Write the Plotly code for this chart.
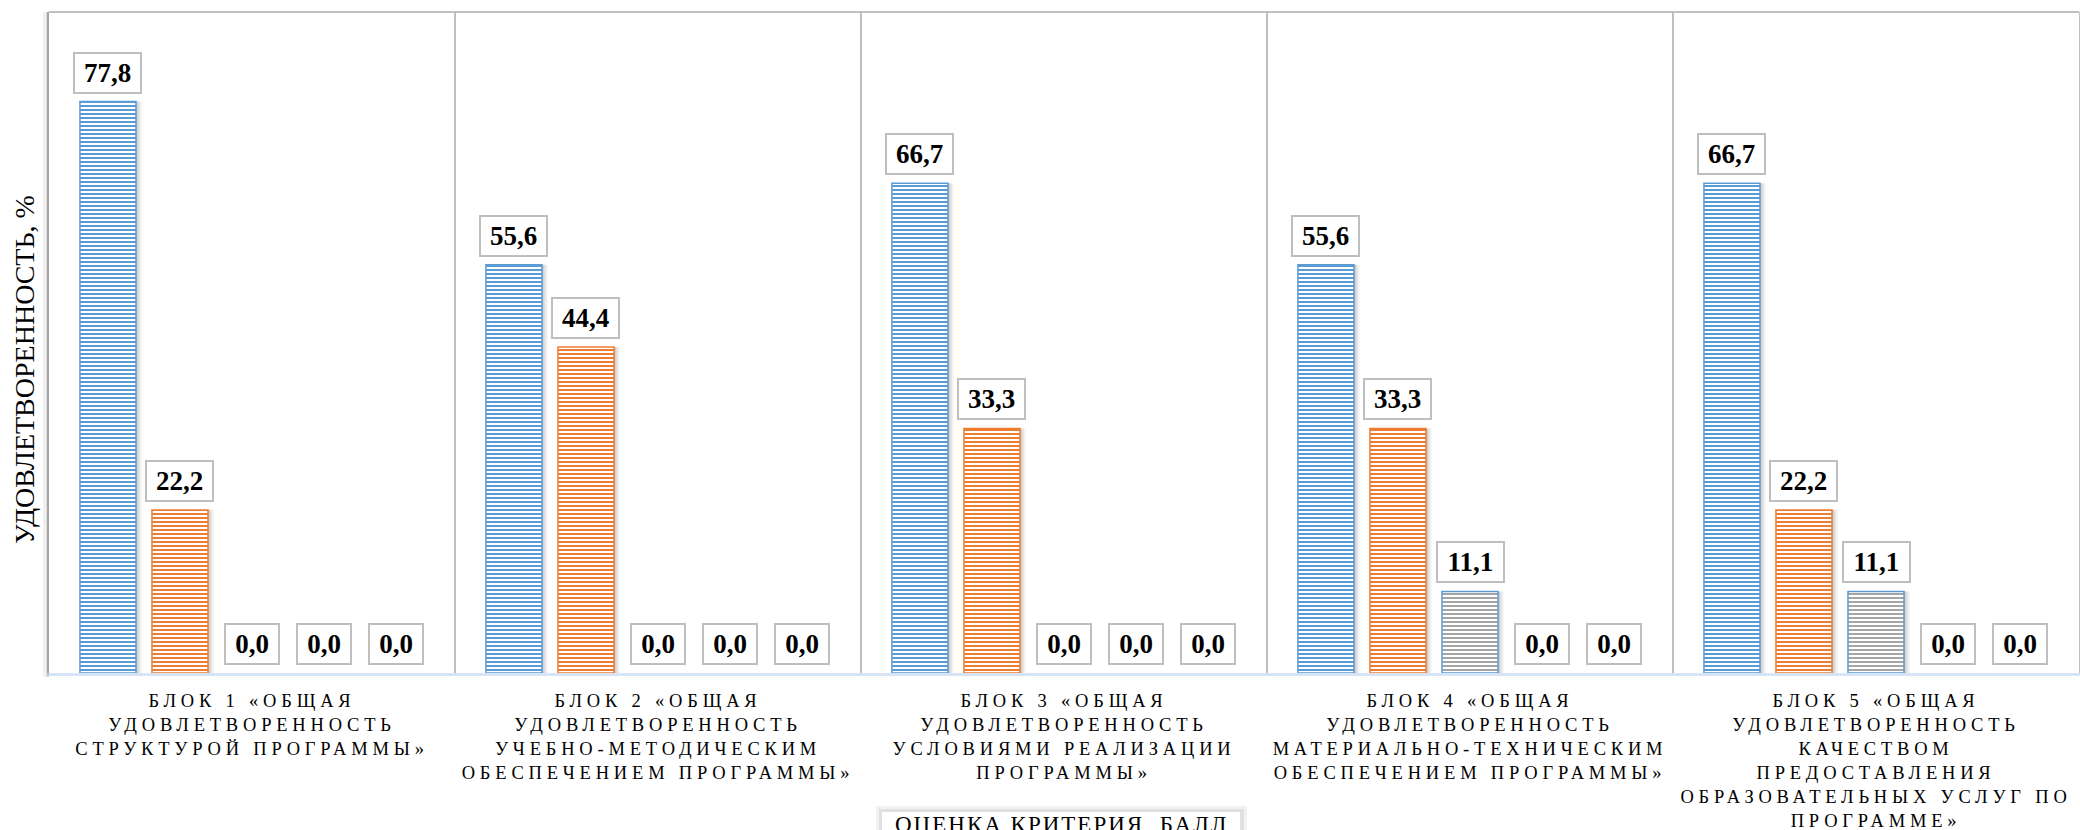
import plotly.graph_objects as go

categories = [
    "БЛОК 1 «ОБЩАЯ<br>УДОВЛЕТВОРЕННОСТЬ<br>СТРУКТУРОЙ ПРОГРАММЫ»",
    "БЛОК 2 «ОБЩАЯ<br>УДОВЛЕТВОРЕННОСТЬ<br>УЧЕБНО-МЕТОДИЧЕСКИМ<br>ОБЕСПЕЧЕНИЕМ ПРОГРАММЫ»",
    "БЛОК 3 «ОБЩАЯ<br>УДОВЛЕТВОРЕННОСТЬ<br>УСЛОВИЯМИ РЕАЛИЗАЦИИ<br>ПРОГРАММЫ»",
    "БЛОК 4 «ОБЩАЯ<br>УДОВЛЕТВОРЕННОСТЬ<br>МАТЕРИАЛЬНО-ТЕХНИЧЕСКИМ<br>ОБЕСПЕЧЕНИЕМ ПРОГРАММЫ»",
    "БЛОК 5 «ОБЩАЯ<br>УДОВЛЕТВОРЕННОСТЬ<br>КАЧЕСТВОМ<br>ПРЕДОСТАВЛЕНИЯ<br>ОБРАЗОВАТЕЛЬНЫХ УСЛУГ ПО<br>ПРОГРАММЕ»",
]
series_names = ["5", "4", "3", "2", "1"]
score_5 = [77.8, 55.6, 66.7, 55.6, 66.7]
score_4 = [22.2, 44.4, 33.3, 33.3, 22.2]
score_3 = [0.0, 0.0, 0.0, 11.1, 11.1]
score_2 = [0.0, 0.0, 0.0, 0.0, 0.0]
score_1 = [0.0, 0.0, 0.0, 0.0, 0.0]
series_values = [score_5, score_4, score_3, score_2, score_1]
y_title = "УДОВЛЕТВОРЕННОСТЬ, %"
legend_title = "ОЦЕНКА КРИТЕРИЯ, БАЛЛ"

colors = ["#5B9BD5", "#ED7D31", "#A5A5A5", "#FFC000", "#4472C4"]
edge_colors = ["#5B9BD5", "#ED7D31", "#5B9BD5", "#FFC000", "#4472C4"]
SERIF = "Liberation Serif, Times New Roman, serif"

W, H = 2080, 830
L, R, T, B = 49, 1, 12, 157
PW, PH = W - L - R, H - T - B

BARGAP = 0.113
BARGROUPGAP = 0.222
n_series = len(series_names)
slot = (1 - BARGAP) / n_series
bar_w = slot * (1 - BARGROUPGAP)
x_idx = list(range(len(categories)))

fig = go.Figure()
# soft drop shadows (drawn first, behind the bars)
for dx, alpha in [(0.004, 0.10), (0.009, 0.08), (0.014, 0.05)]:
    for j, vals in enumerate(series_values):
        off = (j - (n_series - 1) / 2) * slot - bar_w / 2 + dx
        fig.add_trace(go.Bar(
            x=x_idx, y=vals, width=bar_w, offset=off,
            marker=dict(color=f"rgba(0,0,0,{alpha})", line=dict(width=0)),
            showlegend=False, hoverinfo="skip",
        ))

for j, (name, vals) in enumerate(zip(series_names, series_values)):
    off = (j - (n_series - 1) / 2) * slot - bar_w / 2
    fig.add_trace(go.Bar(
        name=name,
        x=x_idx,
        y=vals,
        width=bar_w,
        offset=off,
        marker=dict(
            color=colors[j],
            pattern=dict(shape="-", fgcolor=colors[j], bgcolor="white",
                         size=4, solidity=0.5, fgopacity=1),
            line=dict(color=edge_colors[j], width=[1.5 if v > 0 else 0 for v in vals]),
        ),
    ))

annotations = []
for j, vals in enumerate(series_values):
    for i, v in enumerate(vals):
        s = f"{v:.1f}".replace(".", ",")
        annotations.append(dict(
            xref="x", yref="y",
            x=i + (j - (n_series - 1) / 2) * slot,
            y=v,
            yanchor="bottom", xanchor="center",
            yshift=8,
            text=f"<b>{s}</b>",
            showarrow=False,
            font=dict(family=SERIF, size=27, color="black"),
            bgcolor="white",
            bordercolor="#BFBFBF",
            borderwidth=2,
            borderpad=3,
            width=13 * len(s) + 7,
            height=32,
        ))

# y-axis title
annotations.append(dict(
    xref="paper", yref="paper",
    x=(24 - L) / PW, y=(T + PH - 370) / PH,
    text=y_title, textangle=-90,
    showarrow=False,
    font=dict(family=SERIF, size=28, color="black"),
    xanchor="center", yanchor="middle",
))
# legend title (legend box is cut by the bottom edge of the picture)
annotations.append(dict(
    xref="paper", yref="paper",
    x=(1061 - L) / PW, y=-(811 - T - PH) / PH,
    text=legend_title,
    showarrow=False,
    font=dict(family=SERIF, size=23, color="black"),
    xanchor="center", yanchor="top",
    borderpad=0,
))

fig.update_layout(
    width=W, height=H,
    margin=dict(l=L, r=R, t=T, b=B, autoexpand=False),
    paper_bgcolor="white", plot_bgcolor="white",
    barmode="overlay",
    showlegend=False,
    annotations=annotations,
    shapes=[
        dict(type="line", xref="paper", yref="paper", x0=0, x1=1, y0=1, y1=1,
             line=dict(color="#BFBFBF", width=2)),
        # soft shadow left of the value axis line
        dict(type="rect", xref="paper", yref="paper",
             x0=-6 / PW, x1=0, y0=-4 / PH, y1=1,
             line=dict(width=0), fillcolor="rgba(0,0,0,0.06)"),
        dict(type="rect", xref="paper", yref="paper",
             x0=-3 / PW, x1=0, y0=-4 / PH, y1=1,
             line=dict(width=0), fillcolor="rgba(0,0,0,0.07)"),
        # legend box with a soft shadow
        dict(type="rect", xref="paper", yref="paper",
             x0=(876 - L) / PW, x1=(1247 - L) / PW,
             y0=-(840 - T - PH) / PH, y1=-(806 - T - PH) / PH,
             line=dict(width=0), fillcolor="rgba(0,0,0,0.05)"),
        dict(type="rect", xref="paper", yref="paper",
             x0=(879 - L) / PW, x1=(1244 - L) / PW,
             y0=-(840 - T - PH) / PH, y1=-(809 - T - PH) / PH,
             line=dict(width=0), fillcolor="rgba(0,0,0,0.07)"),
        dict(type="rect", xref="paper", yref="paper",
             x0=(882 - L) / PW, x1=(1240 - L) / PW,
             y0=-(840 - T - PH) / PH, y1=-(812 - T - PH) / PH,
             line=dict(width=0), fillcolor="white"),
    ],
)

fig.update_xaxes(
    type="linear",
    tickmode="array",
    tickvals=x_idx,
    ticktext=categories,
    showgrid=False,
    showline=True, linecolor="#D6E4F5", linewidth=3,
    ticks="",
    ticklabelstandoff=9,
    tickfont=dict(family=SERIF, size=18.5, color="black"),
    automargin=False,
    range=[-0.5, 4.5],
    zeroline=False,
    minor=dict(tickmode="array", tickvals=[i + 0.5 for i in x_idx[:-1]],
               showgrid=True, gridcolor="#BFBFBF", gridwidth=1.5, ticks=""),
)
fig.update_yaxes(
    range=[0, 90],
    showticklabels=False, showgrid=False, zeroline=False,
    showline=True, linecolor="#BFBFBF", linewidth=2, mirror=True,
    automargin=False,
)

post = """
document.body.style.margin = '0';
document.body.style.overflow = 'hidden';
var gd = document.getElementById('{plot_id}');
function ls(){
  gd.querySelectorAll('.xtick text').forEach(function(t){ t.style.letterSpacing='4.8px'; });
  gd.querySelectorAll('.annotation-text').forEach(function(t){
    if (t.textContent.indexOf('ОЦЕНКА') === 0) { t.style.letterSpacing='2px'; }
  });
}
ls();
gd.on('plotly_afterplot', ls);
"""
fig.write_html("out.html", post_script=post, config={"displayModeBar": False})
